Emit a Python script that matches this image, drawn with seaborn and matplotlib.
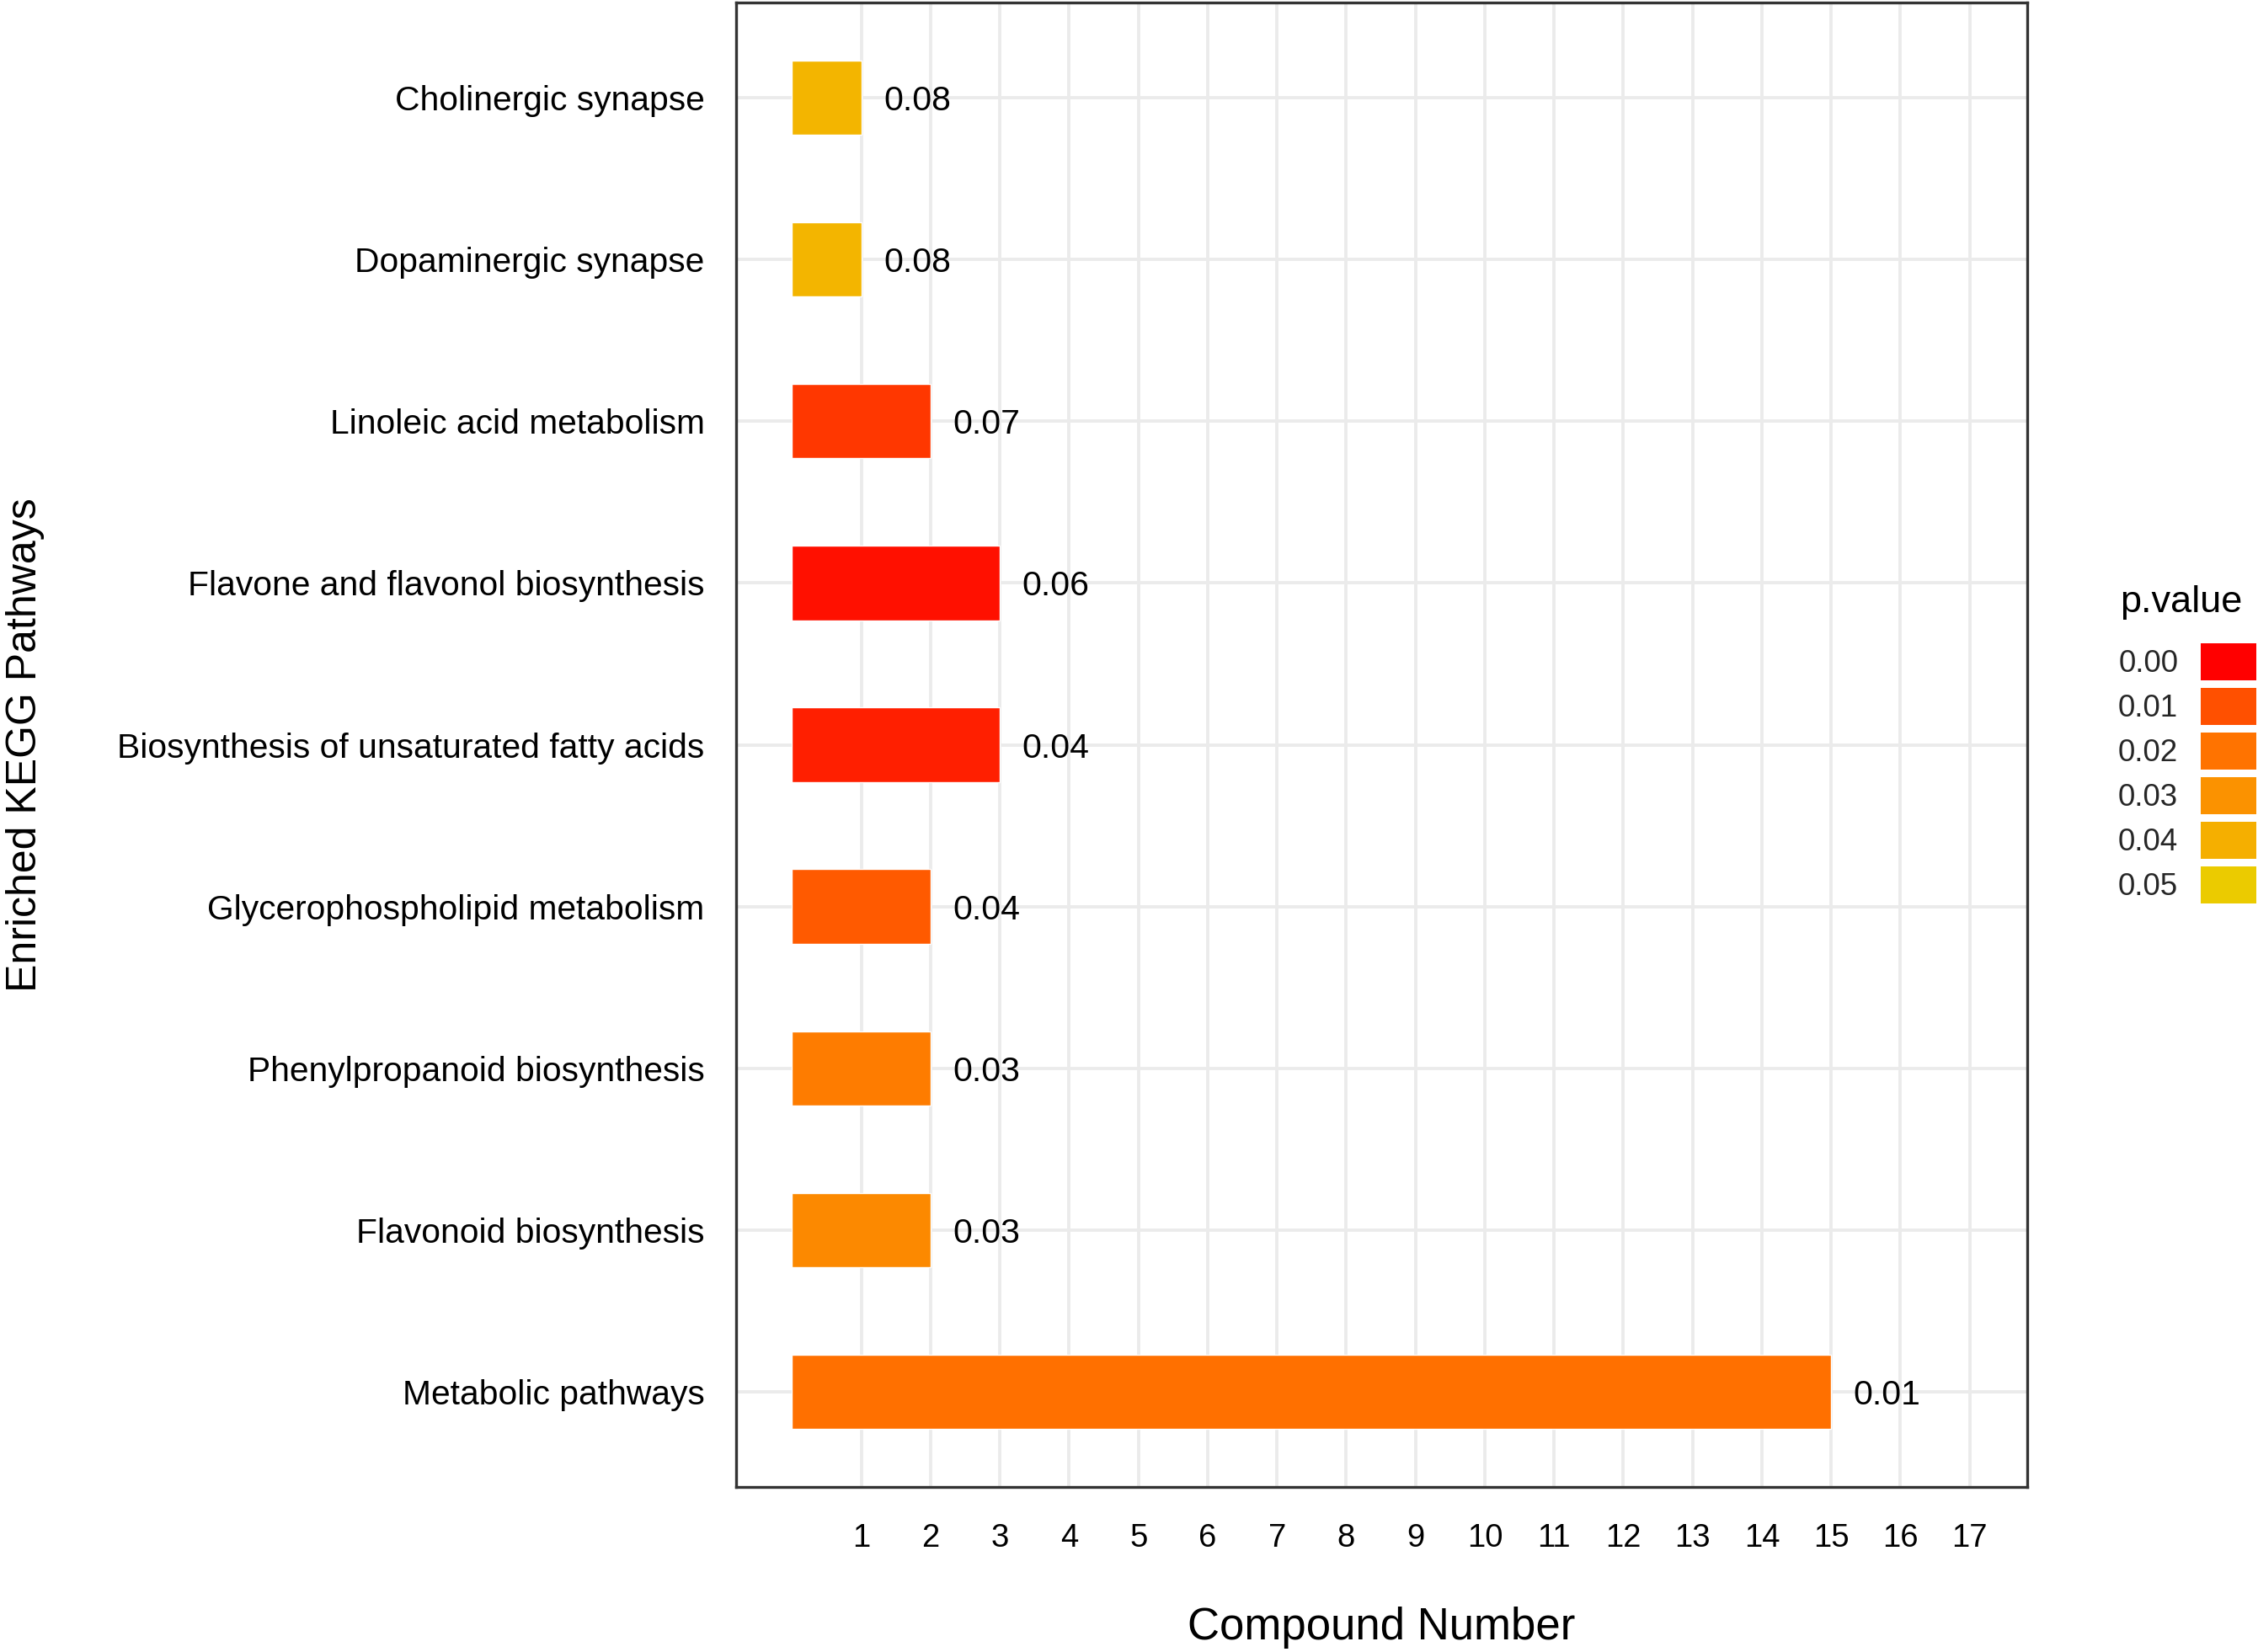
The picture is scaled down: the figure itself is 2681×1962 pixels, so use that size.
import matplotlib
matplotlib.use("Agg")
import matplotlib.pyplot as plt
import seaborn as sns
import pandas as pd
import numpy as np
from matplotlib.colors import LinearSegmentedColormap, Normalize
from matplotlib.patches import Patch

# ---- data ----
pathways = [
    "Cholinergic synapse",
    "Dopaminergic synapse",
    "Linoleic acid metabolism",
    "Flavone and flavonol biosynthesis",
    "Biosynthesis of unsaturated fatty acids",
    "Glycerophospholipid metabolism",
    "Phenylpropanoid biosynthesis",
    "Flavonoid biosynthesis",
    "Metabolic pathways",
]
compound_number = [1, 1, 2, 3, 3, 2, 2, 2, 15]
p_value = [0.042, 0.042, 0.007, 0.002, 0.004, 0.013, 0.023, 0.027, 0.019]
bar_labels = ["0.08", "0.08", "0.07", "0.06", "0.04", "0.04", "0.03", "0.03", "0.01"]
legend_values = [0.00, 0.01, 0.02, 0.03, 0.04, 0.05]
legend_labels = ["0.00", "0.01", "0.02", "0.03", "0.04", "0.05"]
x_ticks = list(range(1, 18))

# ---- colour scale (red -> yellow) ----
scale_colors = ["#FF0000", "#FF5000", "#FF7300", "#FB9200", "#F5AF00", "#EBCB00"]
cmap = LinearSegmentedColormap.from_list("pval", scale_colors)
norm = Normalize(vmin=0.0, vmax=0.05)

df = pd.DataFrame({"pathway": pathways, "count": compound_number, "p": p_value})
palette = {pw: cmap(norm(p)) for pw, p in zip(pathways, p_value)}

sns.set_theme(style="white")
plt.rcParams["font.family"] = ["Liberation Sans", "DejaVu Sans"]

fig = plt.figure(figsize=(26.81, 19.62), dpi=100)
ax = fig.add_axes([874 / 2681, 1 - 1766 / 1962, (2407 - 874) / 2681, (1766 - 3) / 1962])

sns.barplot(data=df, x="count", y="pathway", hue="pathway", palette=palette,
            orient="h", width=0.46, legend=False, ax=ax, saturation=1, zorder=3)

ax.set_xlim(-0.808, 17.83)
ax.set_ylim(len(pathways) - 1 + 0.587, -0.587)
ax.set_xticks(x_ticks)
ax.set_xticklabels([str(t) for t in x_ticks])

ax.grid(True, color="#EBEBEB", linewidth=2.8, zorder=0)
ax.set_axisbelow(True)
for s in ax.spines.values():
    s.set_color("#333333")
    s.set_linewidth(2.4)
    s.set_visible(True)

ax.tick_params(axis="both", direction="in", length=11, width=2.2, color="#333333")
ax.tick_params(axis="x", labelsize=27.5, pad=31, labelcolor="black")
ax.tick_params(axis="y", labelsize=29.3, pad=27, labelcolor="black")

ax.set_xlabel("Compound Number", fontsize=38, labelpad=45, color="black")
ax.set_ylabel("Enriched KEGG Pathways", fontsize=36, labelpad=62, color="black")

for i, (c, lab) in enumerate(zip(compound_number, bar_labels)):
    ax.annotate(lab, xy=(c, i), xytext=(19, 0), textcoords="offset points",
                ha="left", va="center_baseline", fontsize=29.5, color="black", zorder=4)

handles = [Patch(facecolor=cmap(norm(v)), edgecolor="none") for v in legend_values]
leg = fig.legend(handles, legend_labels, loc="upper left",
                 bbox_to_anchor=(2515 / 2681, 1 - 764 / 1962), frameon=False,
                 markerfirst=False, fontsize=26.5,
                 handlelength=1.8, handleheight=1.46, labelspacing=0.245,
                 handletextpad=0.72, borderaxespad=0, borderpad=0)
fig.text(2517 / 2681, 1 - 715 / 1962, "p.value", ha="left", va="center",
         fontsize=32.5, color="black")

fig.savefig("out.png", dpi=100)
